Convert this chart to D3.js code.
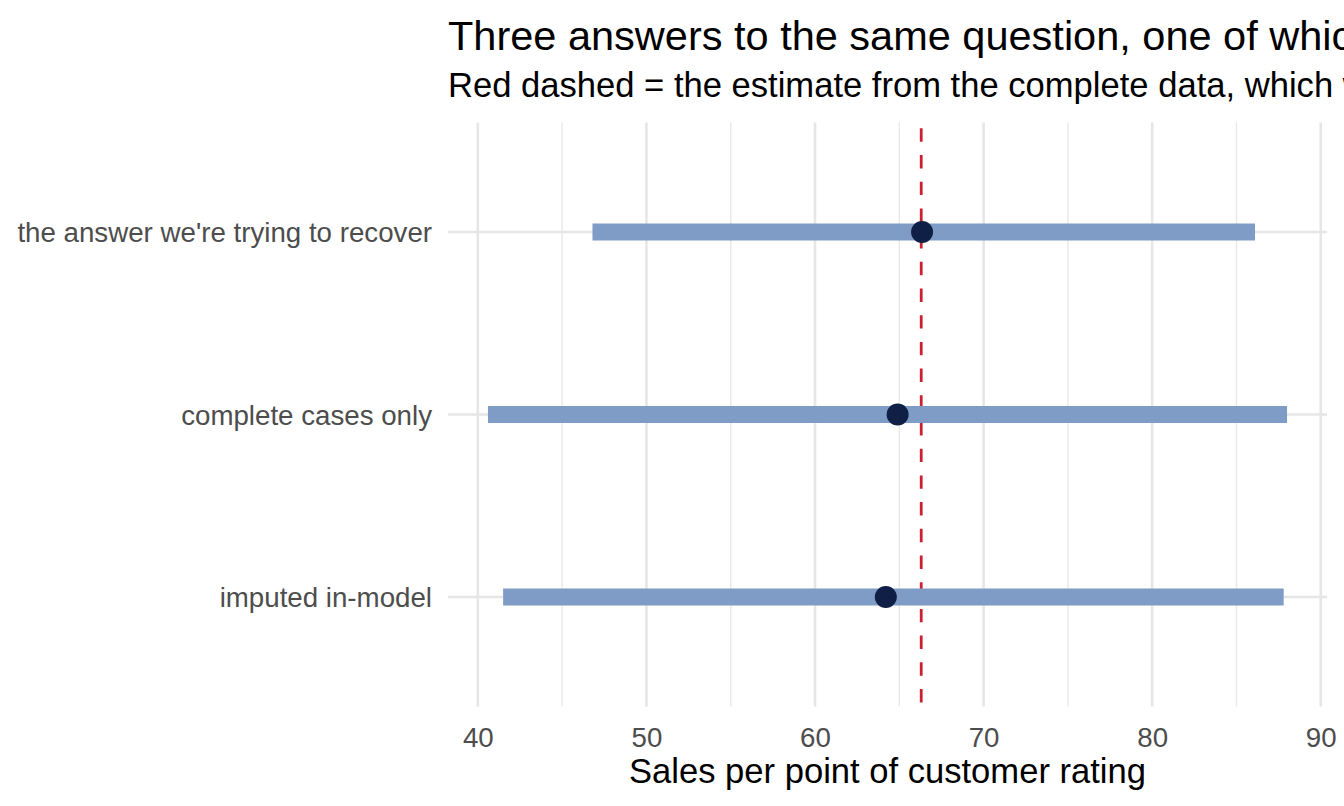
<!DOCTYPE html>
<html lang="en">
<head>
    <meta charset="UTF-8">
    <title>Three answers to the same question</title>
    <script src="https://d3js.org/d3.v7.min.js"></script>
    <style>
        body { margin: 0; background: #fff; }
        svg { display: block; font-family: "Liberation Sans", Arial, Helvetica, sans-serif; }
    </style>
</head>
<body>
    <script>
        // data
        const categories = ["the answer we're trying to recover", "complete cases only", "imputed in-model"];
        const estimates = [66.35, 64.9, 64.2];
        const lowers = [46.8, 40.6, 41.5];
        const uppers = [86.1, 88.0, 87.8];
        const truth = 66.3;
        const xTicks = [40, 50, 60, 70, 80, 90];
        const xMinor = [45, 55, 65, 75, 85];

        const width = 1344, height = 806;
        const panel = { left: 448, right: 1327, top: 122.5, bottom: 706.5 };

        const svg = d3.select("body")
            .append("svg")
            .attr("width", width)
            .attr("height", height);

        // x scale with ggplot-style 5% expansion
        const lo = d3.min(lowers), hi = d3.max(uppers);
        const pad = (hi - lo) * 0.05;
        const x = d3.scaleLinear()
            .domain([lo - pad, hi + pad])
            .range([panel.left, panel.right]);

        const y = d3.scalePoint()
            .domain(categories)
            .range([panel.top, panel.bottom])
            .padding(0.6);

        // grid
        const grid = svg.append("g");
        grid.selectAll("line.minor")
            .data(xMinor)
            .enter().append("line")
            .attr("x1", d => x(d)).attr("x2", d => x(d))
            .attr("y1", panel.top).attr("y2", panel.bottom)
            .attr("stroke", "#e8e8e8").attr("stroke-width", 1.4);
        grid.selectAll("line.major")
            .data(xTicks)
            .enter().append("line")
            .attr("x1", d => x(d)).attr("x2", d => x(d))
            .attr("y1", panel.top).attr("y2", panel.bottom)
            .attr("stroke", "#e6e6e6").attr("stroke-width", 2.6);
        grid.selectAll("line.hmajor")
            .data(categories)
            .enter().append("line")
            .attr("x1", panel.left).attr("x2", panel.right)
            .attr("y1", d => y(d)).attr("y2", d => y(d))
            .attr("stroke", "#e6e6e6").attr("stroke-width", 2.6);

        // reference line (sits under the bars)
        svg.append("line")
            .attr("x1", x(truth)).attr("x2", x(truth))
            .attr("y1", panel.top).attr("y2", panel.bottom)
            .attr("stroke", "#cb2030")
            .attr("stroke-width", 2.8)
            .attr("stroke-dasharray", "13.4 13.3")
            .attr("stroke-dashoffset", 20.9);

        // intervals
        svg.selectAll("line.range")
            .data(categories)
            .enter().append("line")
            .attr("x1", (d, i) => x(lowers[i]))
            .attr("x2", (d, i) => x(uppers[i]))
            .attr("y1", d => y(d)).attr("y2", d => y(d))
            .attr("stroke", "#7f9cc6")
            .attr("stroke-width", 17);

        // point estimates
        svg.selectAll("circle")
            .data(categories)
            .enter().append("circle")
            .attr("cx", (d, i) => x(estimates[i]))
            .attr("cy", d => y(d))
            .attr("r", 11)
            .attr("fill", "#0f1f45");

        // x axis labels
        const xAxis = d3.axisBottom(x).tickValues(xTicks).tickSize(0).tickPadding(0);
        const gx = svg.append("g")
            .attr("transform", `translate(0, ${panel.bottom})`)
            .call(xAxis);
        gx.select(".domain").remove();
        gx.selectAll("text")
            .attr("dy", null)
            .attr("y", 40.5)
            .attr("font-size", 27.7)
            .attr("font-family", null)
            .attr("fill", "#4d4d4d");

        // y axis labels
        const yAxis = d3.axisLeft(y).tickSize(0).tickPadding(0);
        const gy = svg.append("g")
            .attr("transform", `translate(${panel.left - 16}, 0)`)
            .call(yAxis);
        gy.select(".domain").remove();
        gy.selectAll("text")
            .attr("dy", "0.35em")
            .attr("font-size", 27.7)
            .attr("font-family", null)
            .attr("fill", "#4d4d4d");

        // axis title
        svg.append("text")
            .attr("x", (panel.left + panel.right) / 2)
            .attr("y", 783)
            .attr("text-anchor", "middle")
            .attr("font-size", 34.6)
            .attr("fill", "#000")
            .text("Sales per point of customer rating");

        // titles (run past the right edge, as in the reference)
        svg.append("text")
            .attr("x", panel.left)
            .attr("y", 50)
            .attr("font-size", 41.5)
            .attr("fill", "#000")
            .text("Three answers to the same question, one of which we can check");

        svg.append("text")
            .attr("x", panel.left)
            .attr("y", 97)
            .attr("font-size", 34.6)
            .attr("fill", "#000")
            .text("Red dashed = the estimate from the complete data, which we normally never see");
    </script>
</body>
</html>
